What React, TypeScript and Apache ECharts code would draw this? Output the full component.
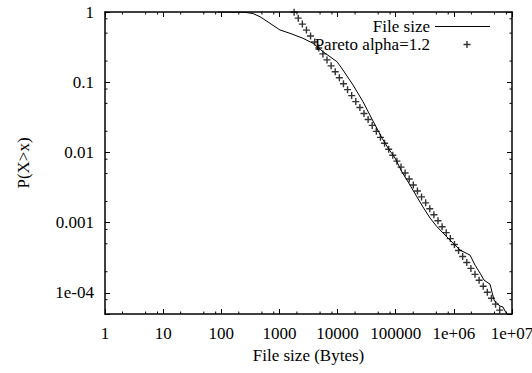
import React, { useEffect, useRef } from 'react';
import * as echarts from 'echarts';

// Tick labels, indexed by decade exponent
const xTickLabels = ['1', '10', '100', '1000', '10000', '100000', '1e+06', '1e+07'];
const yTickLabels = ['1e-04', '0.001', '0.01', '0.1', '1']; // exponents -4..0

// Minor tick positions (as seen on the reference axes)
const xMinorTicks = [2, 5, 8, 20, 50, 80, 200, 500, 800, 2000, 5000, 8000, 20000, 50000, 80000,
  200000, 500000, 800000, 2000000, 5000000, 8000000];
const yMinorTicks = [0.00008, 0.0002, 0.0005, 0.0008, 0.002, 0.005, 0.008, 0.02, 0.05, 0.08, 0.2, 0.5, 0.8];

const fileSizeX = [88, 256, 351, 463, 689, 1023, 1520, 2545, 3784, 5623, 9780, 12400, 18450, 27400,
  40700, 58100, 73800, 97300, 128300, 176100, 232300, 294500, 388800, 512900, 704700, 966000,
  1276000, 1897000, 2312000, 2818000, 3302000, 4188000, 4532000, 4909000, 5524000, 6220000,
  7010000, 7586000, 8200000];
const fileSizeP = [1, 0.99, 0.95, 0.857, 0.69, 0.554, 0.497, 0.422, 0.358, 0.272, 0.196, 0.149, 0.0912,
  0.0527, 0.028, 0.016, 0.01155, 0.00832, 0.00526, 0.00343, 0.00232, 0.00167, 0.001164, 0.000875,
  0.000666, 0.000512, 0.000407, 0.000345, 0.000249, 0.000191, 0.000152, 0.000133, 0.0001026,
  0.0000789, 0.0000705, 0.0000649, 0.0000628, 0.0000551, 0.0000502];

// Pareto (alpha = 1.2) sample points as plotted
const paretoX = [1789, 2105, 2477, 2915, 3431, 4037, 4751, 5591, 6579, 7743, 9112, 10723, 12619, 14850,
  17475, 20565, 24201, 28480, 33516, 39442, 46416, 54622, 64281, 75646, 89022, 104760, 123280,
  145080, 170740, 200920, 236450, 278260, 327450, 385350, 453490, 533670, 628030, 739070, 869750,
  1023500, 1204500, 1417500, 1668100, 1963000, 2310100, 2718600, 3199300, 3764900, 4430600,
  5214000, 6135900];
const paretoP = [0.993, 0.8168, 0.672, 0.5527, 0.4546, 0.3739, 0.3075, 0.2529, 0.208, 0.1711, 0.1407,
  0.1157, 0.09523, 0.07833, 0.06443, 0.05299, 0.04359, 0.03585, 0.02949, 0.02425, 0.01995, 0.01641,
  0.0135, 0.0111, 0.009134, 0.007512, 0.006179, 0.005082, 0.00418, 0.003438, 0.002828, 0.002326,
  0.001913, 0.001574, 0.001295, 0.001065, 0.0008758, 0.0007204, 0.0005925, 0.0004873, 0.0004008,
  0.0003297, 0.0002712, 0.000223, 0.0001835, 0.0001509, 0.0001241, 0.0001021, 0.00008398,
  0.00006907, 0.00005681];

const FONT = 'Liberation Serif';
const PLUS = 'path://M4,0H6V4H10V6H6V10H4V6H0V4H4Z';
const LINE_ICON = 'path://M0,0H55V1H0Z';
const X_MIN = 1, X_MAX = 1e7, Y_MIN = 5e-5, Y_MAX = 1;
const MINOR_LEN = 2.5;

function decadeExp(v: number): number | null {
  const e = Math.log10(v);
  const r = Math.round(e);
  return Math.abs(e - r) < 1e-6 ? r : null;
}

export default function App() {
  const ref = useRef<HTMLDivElement>(null);
  useEffect(() => {
    if (!ref.current) return;
    const chart = echarts.init(ref.current, null, { renderer: 'svg' });
    const axisLine = { show: true, lineStyle: { color: '#000', width: 1.5 } };
    const axisTick = { show: true, inside: true, length: 5, lineStyle: { color: '#000', width: 1 } };
    const labelStyle = () => ({ color: '#000', fontSize: 17, fontFamily: FONT });
    const tickLine = (x1: number, y1: number, x2: number, y2: number) => ({
      type: 'line', shape: { x1, y1, x2, y2 }, style: { stroke: '#000', lineWidth: 1 },
    });
    chart.setOption({
      animation: false,
      backgroundColor: '#fff',
      textStyle: { fontFamily: FONT, fontSize: 17, color: '#000' },
      grid: { left: 105, right: 20, top: 12, bottom: 59, outerBoundsMode: 'none' },
      legend: [
        {
          data: [{ name: 'File size', icon: LINE_ICON }],
          right: 42, top: 18, align: 'right', padding: 0,
          itemWidth: 55, itemHeight: 14, selectedMode: false,
          textStyle: labelStyle(),
        },
        {
          data: [{ name: 'Pareto alpha=1.2', icon: PLUS }],
          right: 61.5, top: 36, align: 'right', padding: 0,
          itemWidth: 7, itemHeight: 7, selectedMode: false,
          textStyle: { ...labelStyle(), padding: [0, 28.5, 0, 0] },
        },
      ],
      xAxis: [
        {
          type: 'log', logBase: 10, min: X_MIN, max: X_MAX, position: 'bottom',
          axisLine, axisTick, splitLine: { show: false },
          axisLabel: {
            ...labelStyle(), margin: 11,
            formatter: (v: number) => { const e = decadeExp(v); return e === null ? '' : (xTickLabels[e] ?? ''); },
          },
          name: 'File size (Bytes)', nameLocation: 'middle', nameGap: 31, nameTextStyle: labelStyle(),
        },
        {
          type: 'log', logBase: 10, min: X_MIN, max: X_MAX, position: 'top',
          axisLine, axisTick, splitLine: { show: false }, axisLabel: { show: false },
        },
      ],
      yAxis: [
        {
          type: 'log', logBase: 10, min: Y_MIN, max: Y_MAX, position: 'left',
          axisLine, axisTick, splitLine: { show: false },
          axisLabel: {
            ...labelStyle(), margin: 11,
            formatter: (v: number) => { const e = decadeExp(v); return e === null ? '' : (yTickLabels[e + 4] ?? ''); },
          },
          name: 'P(X>x)', nameLocation: 'middle', nameGap: 73, nameTextStyle: labelStyle(),
        },
        {
          type: 'log', logBase: 10, min: Y_MIN, max: Y_MAX, position: 'right',
          axisLine, axisTick, splitLine: { show: false }, axisLabel: { show: false },
        },
      ],
      series: [
        {
          name: 'File size', type: 'line', xAxisIndex: 0, yAxisIndex: 0,
          data: fileSizeX.map((x, i) => [x, fileSizeP[i]]),
          symbol: 'none', lineStyle: { color: '#000', width: 1 }, itemStyle: { color: '#000' },
          z: 3,
        },
        {
          name: 'Pareto alpha=1.2', type: 'scatter', xAxisIndex: 0, yAxisIndex: 0,
          data: paretoX.map((x, i) => [x, paretoP[i]]),
          symbol: PLUS, symbolSize: 7, itemStyle: { color: '#000' },
          z: 4,
        },
        {
          type: 'custom', name: 'xminor', xAxisIndex: 0, yAxisIndex: 0, silent: true,
          data: xMinorTicks.map((v) => [v, 0.5]),
          renderItem: (params: any, api: any) => {
            const cs = params.coordSys;
            const px = api.coord([api.value(0), 0.5])[0];
            const top = cs.y, bottom = cs.y + cs.height;
            return {
              type: 'group', children: [
                tickLine(px, bottom, px, bottom - MINOR_LEN),
                tickLine(px, top, px, top + MINOR_LEN),
              ],
            };
          },
        },
        {
          type: 'custom', name: 'yminor', xAxisIndex: 0, yAxisIndex: 0, silent: true,
          data: yMinorTicks.map((v) => [10, v]),
          renderItem: (params: any, api: any) => {
            const cs = params.coordSys;
            const py = api.coord([10, api.value(1)])[1];
            const left = cs.x, right = cs.x + cs.width;
            return {
              type: 'group', children: [
                tickLine(left, py, left + MINOR_LEN, py),
                tickLine(right, py, right - MINOR_LEN, py),
              ],
            };
          },
        },
      ],
    });
    return () => chart.dispose();
  }, []);
  return (
    <div
      ref={ref}
      style={{ position: 'fixed', left: 0, top: 0, width: 532, height: 373, background: '#fff' }}
    />
  );
}
